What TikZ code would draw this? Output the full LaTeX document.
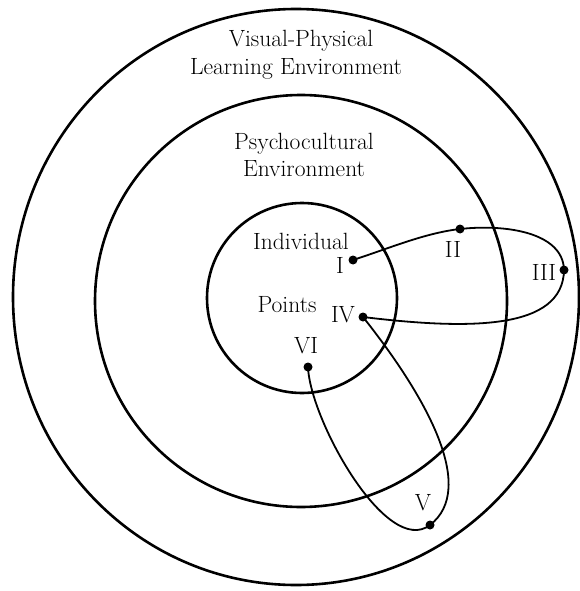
\documentclass[tikz,border=0pt]{standalone}
\begin{document}
\begin{tikzpicture}[x=1pt,y=-1pt,
  ring/.style={line width=2.6pt},
  link/.style={line width=1.8pt},
  dot/.style={circle,fill=black,inner sep=0pt,minimum size=9pt},
  lbl/.style={font=\fontsize{23.5}{28}\selectfont,anchor=base,inner sep=0pt}]
\useasboundingbox (0,0) rectangle (580,591);
% circles
\draw[ring] (296,297) ellipse [x radius=283pt, y radius=288pt];
\draw[ring] (301,301) circle [radius=206pt];
\draw[ring] (302,298) circle [radius=95pt];
% texts
\node[lbl] (t1) at (301,47) {Visual-Physical};
\node[lbl] (t2) at (296,75) {Learning Environment};
\node[lbl] (t3) at (304,149) {Psychocultural};
\node[lbl] (t4) at (304,176) {Environment};
\node[lbl] (t5) at (301,249) {Individual};
\node[lbl] (t6) at (287,312) {Points};
% points
\node[dot] (p1) at (353,260) {};
\node[dot] (p2) at (460,229) {};
\node[dot] (p3) at (564,270) {};
\node[dot] (p4) at (363,317) {};
\node[dot] (p5) at (430,525) {};
\node[dot] (p6) at (308,367) {};
\node[lbl] (l1) at (340,273) {I};
\node[lbl] (l2) at (453,257) {II};
\node[lbl] (l3) at (544,280) {III};
\node[lbl] (l4) at (343,322) {IV};
\node[lbl] (l5) at (423,510) {V};
\node[lbl] (l6) at (306,353) {VI};
% path
\draw[link] (p1.center) .. controls (390,248) and (425,233) .. (p2.center)
  .. controls (505,224) and (563,232) .. (p3.center)
  .. controls (563,330) and (470,330) .. (p4.center)
  .. controls (425,395) and (478,488) .. (p5.center)
  .. controls (387,558) and (310,420) .. (p6.center);
\end{tikzpicture}
\end{document}
